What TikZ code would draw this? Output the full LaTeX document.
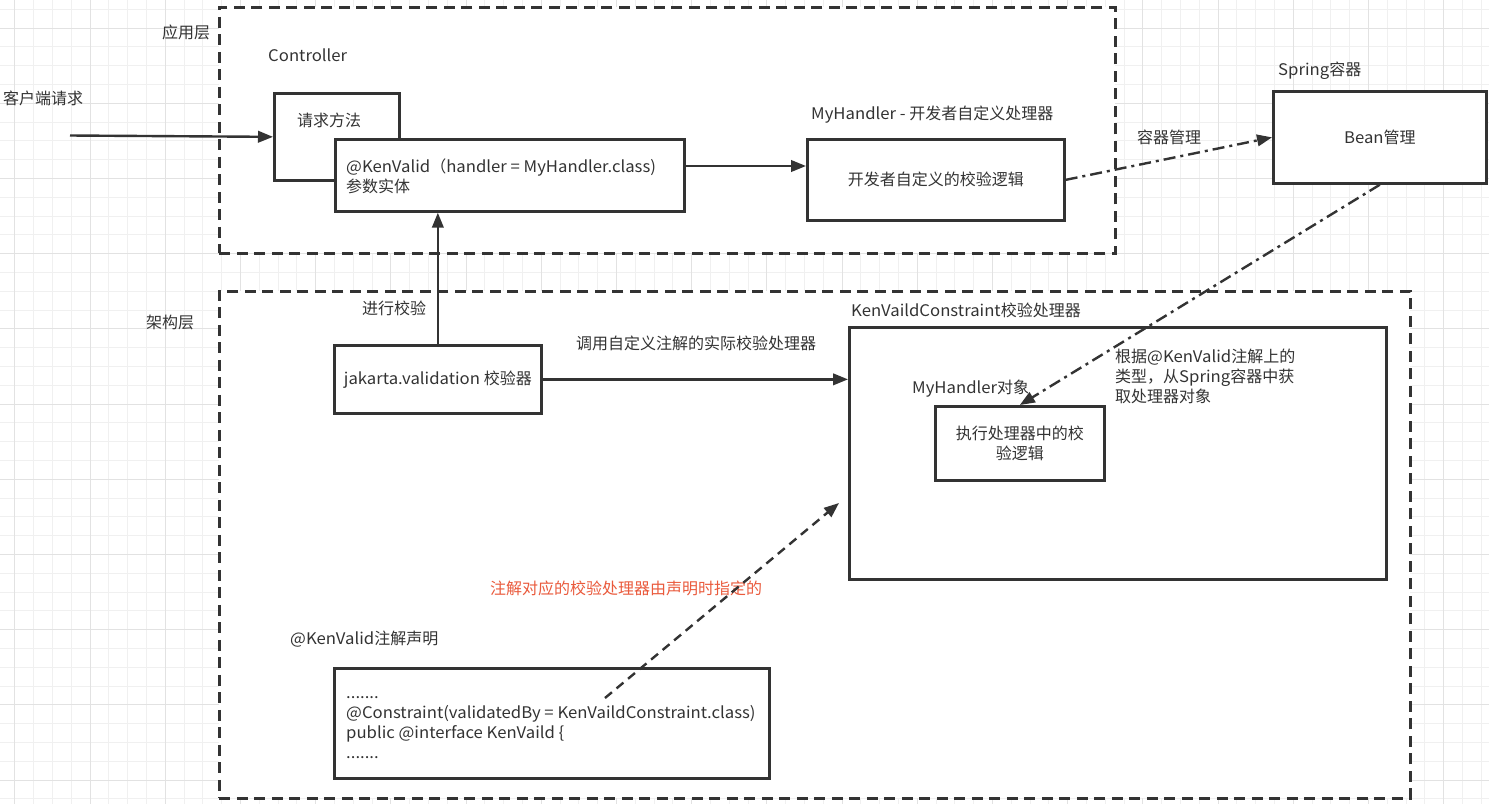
\documentclass[tikz,border=0pt]{standalone}
\usepackage{fontspec}
\setmainfont{Noto Sans CJK SC}
\newfontfamily\latf[FakeStretch=1.045]{Noto Sans CJK SC}
\newcommand\LT[1]{{\latf #1}}
\usetikzlibrary{arrows.meta}
\definecolor{lineC}{HTML}{333333}
\definecolor{txtC}{HTML}{333333}
\definecolor{redC}{HTML}{EA5A3C}
\definecolor{gridMinor}{HTML}{F0F0F0}
\definecolor{gridMajor}{HTML}{E2E2E2}
\begin{document}
\begin{tikzpicture}[x=1pt,y=-1pt,
  font=\fontsize{16}{20}\selectfont,
  every node/.style={text=txtC},
  lbl/.style={anchor=west, inner sep=0pt},
  codeline/.style={anchor=base west, inner sep=0pt},
  boxS/.style={draw=lineC, line width=2.7pt, fill=white, anchor=north west, inner sep=0pt},
  frameS/.style={draw=lineC, line width=2.8pt, fill=white, dash pattern=on 11pt off 6.5pt, anchor=north west, inner sep=0pt},
  arr/.style={draw=lineC, line width=2.4pt, -{Triangle[length=15pt,width=11.5pt]}},
  dashdotarr/.style={arr, dash pattern=on 12pt off 5pt on 3pt off 5pt},
  dasharr/.style={arr, dash pattern=on 9pt off 6pt}
]
\useasboundingbox (0,0) rectangle (1489,804);
\fill[white] (0,0) rectangle (1489,804);
% grid
\foreach \i in {0,...,79} {\draw[gridMinor, line width=1pt] ({14.8+18.8*\i},0) -- ({14.8+18.8*\i},804);}
\foreach \i in {0,...,42} {\draw[gridMinor, line width=1pt] (0,{9.3+18.8*\i}) -- (1489,{9.3+18.8*\i});}
\foreach \i in {0,4,...,76} {\draw[gridMajor, line width=1pt] ({14.8+18.8*\i},0) -- ({14.8+18.8*\i},804);}
\foreach \i in {1,5,...,41} {\draw[gridMajor, line width=1pt] (0,{9.3+18.8*\i}) -- (1489,{9.3+18.8*\i});}

% frames
\node[frameS, minimum width=896pt, minimum height=246pt] (appF) at (218,6) {};
\node[frameS, minimum width=1191pt, minimum height=507pt] (archF) at (218,290) {};

% boxes
\node[boxS, minimum width=125pt, minimum height=87pt] (req) at (273,92) {};
\node[boxS, minimum width=349pt, minimum height=72pt] (param) at (334,138) {};
\node[boxS, minimum width=257pt, minimum height=81pt] (myh) at (806,138) {};
\node[boxS, minimum width=213pt, minimum height=92pt] (bean) at (1272,90) {};
\node[boxS, minimum width=207pt, minimum height=68pt] (jak) at (333,344) {};
\node[boxS, minimum width=537pt, minimum height=252pt] (kvc) at (848,326) {};
\node[boxS, minimum width=169pt, minimum height=74pt] (exec) at (934,405) {};
\node[boxS, minimum width=435pt, minimum height=110pt] (decl) at (333,667) {};

% labels
\node[lbl] (tApp) at (162,32) {应用层};
\node[lbl] (tArch) at (146,322) {架构层};
\node[lbl] (tCtrl) at (268,55) {\LT{Controller}};
\node[lbl] (tCli) at (3,98) {客户端请求};
\node[lbl] (tReq) at (297,120) {请求方法};
\node[lbl, align=left] (tParam) at (346,176) {\LT{@KenValid}（\LT{handler = MyHandler.class)}\\参数实体};
\node[lbl] (tMyhL) at (811,115) {\LT{MyHandler - }开发者自定义处理器};
\node[inner sep=0pt] (tMyh) at (myh.center) {开发者自定义的校验逻辑};
\node[lbl] (tSpring) at (1278,71) {\LT{Spring}容器};
\node[inner sep=0pt] (tBean) at (bean.center) {\LT{Bean}管理};
\node[lbl] (tMgr) at (1137,137) {容器管理};
\node[lbl] (tCheck) at (362,308) {进行校验};
\node[inner sep=0pt] (tJak) at (jak.center) {\LT{jakarta.validation }校验器};
\node[lbl] (tCall) at (576,343) {调用自定义注解的实际校验处理器};
\node[lbl] (tKvc) at (851,310) {\LT{KenVaildConstraint}校验处理器};
\node[lbl] (tObj) at (912,389) {\LT{MyHandler}对象};
\node[inner sep=0pt, align=center] (tExec) at (exec.center) {执行处理器中的校\\验逻辑};
\node[lbl, align=left] (tBy) at (1115,376.5) {根据\LT{@KenValid}注解上的\\类型，从\LT{Spring}容器中获\\取处理器对象};
\node[lbl, text=redC] (tRed) at (490,588) {注解对应的校验处理器由声明时指定的};
\node[lbl] (tDecl) at (290,639) {\LT{@KenValid}注解声明};
\node[codeline] (tCode1) at (346,698) {\LT{.......}};
\node[codeline] (tCode2) at (346,718) {\LT{@Constraint(validatedBy = KenVaildConstraint.class)}};
\node[codeline] (tCode3) at (346,738) {\LT{public @interface KenVaild \{}};
\node[codeline] (tCode4) at (346,758) {\LT{.......}};

% connectors
\coordinate (cli) at (70,135.5);
\draw[arr] (cli) -- (req.west);
\draw[arr] (param.east |- 0,166) -- (myh.west |- 0,166);
\draw[dashdotarr] (myh.east) -- (bean.west);
\draw[dashdotarr] (bean.south) -- (exec.north);
\draw[arr] (jak.north) -- (jak.north |- param.south);
\draw[arr] (jak.east) -- (kvc.west |- jak.east);
\coordinate (dstart) at (605,698);
\coordinate (dend) at (839,503);
\draw[dasharr] (dstart) -- (dend);
\end{tikzpicture}
\end{document}
